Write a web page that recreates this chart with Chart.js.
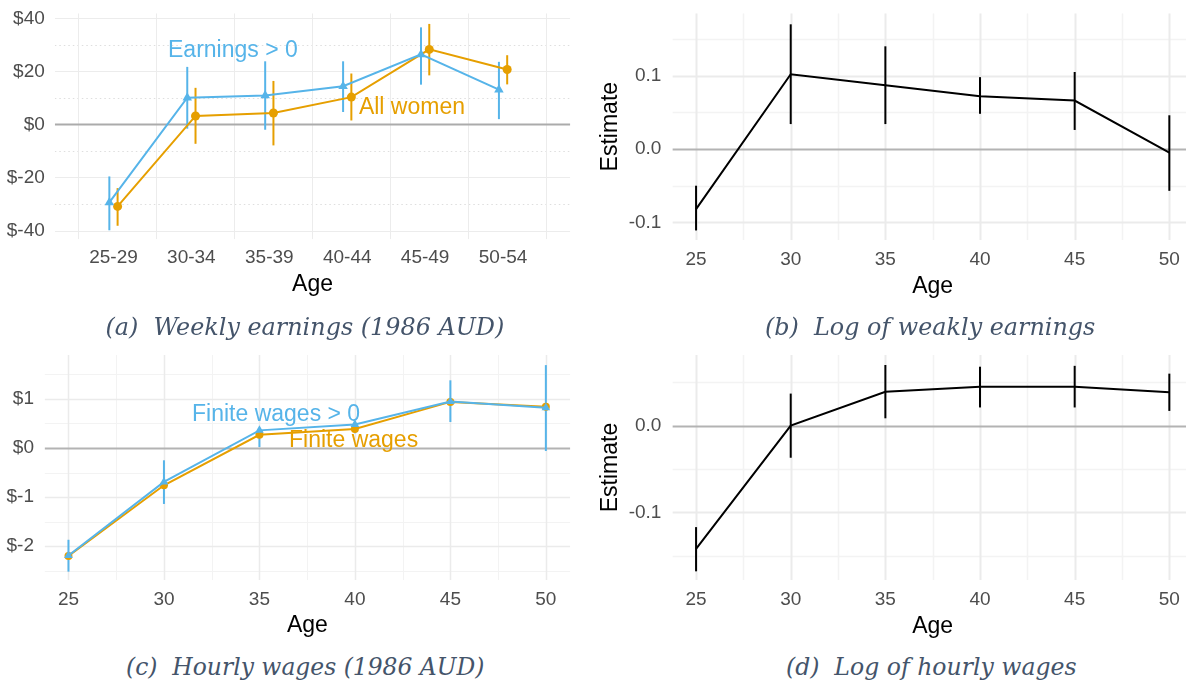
<!DOCTYPE html>
<html>
<head>
<meta charset="utf-8">
<script src="https://cdn.jsdelivr.net/npm/chart.js@4.4.1/dist/chart.umd.min.js"></script>
<style>
  html, body { margin: 0; padding: 0; background: #fff; overflow: hidden; width: 1186px; height: 683px; }
  canvas { position: absolute; }
  .cap { position: absolute; white-space: nowrap; font-family: "DejaVu Serif", serif; font-style: italic;
         font-size: 25px; color: #44546a; transform-origin: 50% 50%; }
</style>
</head>
<body>
<canvas id="chartA" width="593" height="300" style="left:0;top:0"></canvas>
<canvas id="chartB" width="600" height="300" style="left:593px;top:0"></canvas>
<canvas id="chartC" width="593" height="300" style="left:0;top:340px"></canvas>
<canvas id="chartD" width="600" height="300" style="left:593px;top:340px"></canvas>

<div class="cap" data-cx="305" data-cy="326" data-w="399">(a)&nbsp; Weekly earnings (1986 AUD)</div>
<div class="cap" data-cx="930" data-cy="326" data-w="330">(b)&nbsp; Log of weakly earnings</div>
<div class="cap" data-cx="305" data-cy="666" data-w="359">(c)&nbsp; Hourly wages (1986 AUD)</div>
<div class="cap" data-cx="931" data-cy="666" data-w="290">(d)&nbsp; Log of hourly wages</div>

<script>
// ---- data ----
const ageGroups = ['25-29', '30-34', '35-39', '40-44', '45-49', '50-54'];
const ages = [25, 30, 35, 40, 45, 50];

// (a) weekly earnings
const earnPos   = [-29.4, 10.1, 10.9, 14.4, 26.4, 13.1];
const earnPosLo = [-39.9, -1.6, -2.0, 4.7, 15.0, 2.0];
const earnPosHi = [-19.6, 21.7, 23.8, 23.8, 36.6, 23.6];
const earnAll   = [-30.9, 3.2, 4.3, 10.3, 28.3, 20.7];
const earnAllLo = [-38.2, -7.3, -7.9, 1.5, 18.5, 15.1];
const earnAllHi = [-24.0, 13.8, 16.4, 19.2, 37.9, 26.1];
const earnTicks = [-40, -20, 0, 20, 40];

// (b) log weekly earnings
const logEarn   = [-0.082, 0.102, 0.087, 0.072, 0.066, -0.005];
const logEarnLo = [-0.111, 0.034, 0.034, 0.048, 0.026, -0.057];
const logEarnHi = [-0.050, 0.170, 0.140, 0.098, 0.105, 0.046];
const logEarnTicks = [-0.1, 0, 0.1];

// (c) hourly wages
const wagePos    = [-2.19, -0.69, 0.36, 0.48, 0.95, 0.82];
const wagePosLo  = [-2.52, -1.14, 0.02, 0.30, 0.53, -0.06];
const wagePosHi  = [-1.87, -0.25, 0.39, 0.55, 1.38, 1.69];
const wageFinite = [-2.20, -0.76, 0.27, 0.39, 0.94, 0.84];
const wageTicks = [-2, -1, 0, 1];

// (d) log hourly wages
const logWage   = [-0.142, 0.000, 0.039, 0.045, 0.045, 0.0385];
const logWageLo = [-0.168, -0.037, 0.0085, 0.021, 0.021, 0.017];
const logWageHi = [-0.117, 0.037, 0.070, 0.068, 0.069, 0.060];
const logWageTicks = [-0.1, 0];

const BLUE = '#56B4E9';
const ORANGE = '#E69F00';
const FONT = "'Liberation Sans', Arial, sans-serif";

// ggplot-like background grid, zero line and error bars
const gridPlugin = {
  id: 'ggGrid',
  beforeDatasetsDraw(chart, args, o) {
    const { ctx, chartArea: a, scales: { x, y } } = chart;
    ctx.save();
    ctx.beginPath();
    ctx.rect(a.left, a.top, a.right - a.left, a.bottom - a.top);
    ctx.clip();
    const hline = (v, color, w, dash) => {
      const p = Math.round(y.getPixelForValue(v)) + 0.5;
      ctx.strokeStyle = color; ctx.lineWidth = w; ctx.setLineDash(dash || []);
      ctx.beginPath(); ctx.moveTo(a.left, p); ctx.lineTo(a.right, p); ctx.stroke();
    };
    const vline = (v, color, w) => {
      const p = Math.round(x.getPixelForValue(v)) + 0.5;
      ctx.strokeStyle = color; ctx.lineWidth = w; ctx.setLineDash([]);
      ctx.beginPath(); ctx.moveTo(p, a.top); ctx.lineTo(p, a.bottom); ctx.stroke();
    };
    (o.xMinor || []).forEach(v => vline(v, o.minorColor, o.minorWidth));
    (o.yMinor || []).forEach(v => hline(v, o.minorColor, o.minorWidth, o.minorDash));
    (o.xMajor || []).forEach(v => vline(v, o.majorColor, o.majorWidth));
    (o.yMajor || []).forEach(v => { if (v !== 0) hline(v, o.majorColor, o.majorWidth); });
    hline(0, o.zeroColor, 2);
    ctx.restore();

    ctx.save();
    chart.data.datasets.forEach(ds => {
      if (!ds.errLo) return;
      ctx.strokeStyle = ds.errColor || ds.borderColor;
      ctx.lineWidth = ds.errWidth || 2;
      ds.data.forEach((pt, j) => {
        const px = x.getPixelForValue(pt.x);
        ctx.beginPath();
        ctx.moveTo(px, y.getPixelForValue(ds.errLo[j]));
        ctx.lineTo(px, y.getPixelForValue(ds.errHi[j]));
        ctx.stroke();
      });
    });
    ctx.restore();
  }
};

// direct labels
const textPlugin = {
  id: 'ggText',
  afterDatasetsDraw(chart, args, o) {
    const { ctx, scales: { x, y } } = chart;
    ctx.save();
    ctx.font = '23px ' + FONT;
    ctx.textAlign = 'left';
    ctx.textBaseline = 'middle';
    (o.items || []).forEach(t => {
      ctx.fillStyle = t.color;
      ctx.fillText(t.text, x.getPixelForValue(t.x), y.getPixelForValue(t.y));
    });
    ctx.restore();
  }
};

function makeChart(id, o) {
  return new Chart(document.getElementById(id), {
    type: 'line',
    data: { datasets: o.datasets },
    options: {
      responsive: false,
      animation: false,
      layout: { padding: { top: o.top, right: o.right, bottom: 0, left: 0 } },
      plugins: {
        legend: { display: false },
        tooltip: { enabled: false },
        ggGrid: o.grid,
        ggText: { items: o.texts || [] }
      },
      scales: {
        x: {
          type: 'linear', min: o.xMin, max: o.xMax,
          grid: { display: false, drawTicks: false }, border: { display: false },
          afterBuildTicks: s => { s.ticks = o.xTicks.map(v => ({ value: v })); },
          afterFit: s => { s.height = o.xHeight; s.paddingLeft = 0; s.paddingRight = 0; },
          ticks: { padding: o.xPad, color: '#4d4d4d', font: { family: FONT, size: 19 },
                   maxRotation: 0, autoSkip: false, callback: o.xLabel },
          title: { display: true, text: 'Age', color: '#000', font: { family: FONT, size: 23 },
                   padding: { top: 0, bottom: o.titlePad } }
        },
        y: {
          type: 'linear', min: o.yMin, max: o.yMax,
          grid: { display: false, drawTicks: false }, border: { display: false },
          afterBuildTicks: s => { s.ticks = o.yTicks.map(v => ({ value: v })); },
          afterFit: s => { s.width = o.yWidth; s.paddingTop = 0; s.paddingBottom = 0; },
          ticks: { padding: o.yPad, color: '#4d4d4d', font: { family: FONT, size: 19 }, callback: o.yLabel },
          title: o.yTitle
            ? { display: true, text: o.yTitle, color: '#000', font: { family: FONT, size: 23 }, padding: { top: 4, bottom: 0 } }
            : { display: false }
        }
      }
    },
    plugins: [gridPlugin, textPlugin]
  });
}

const dodge = 0.053;
const dollar = v => '$' + v;
const oneDec = v => v.toFixed(1);
const ageLabel = v => String(v);

const gridA = {
  xMajor: [-0.45, 0.55, 1.55, 2.55, 3.55, 4.55, 5.55],
  yMajor: earnTicks, yMinor: [-30, -10, 10, 30],
  majorColor: '#ececec', majorWidth: 1, minorColor: '#dedede', minorWidth: 1, minorDash: [1.5, 3],
  zeroColor: '#ababab'
};
const gridAge = (yMajor, yMinor) => ({
  xMajor: ages, xMinor: [27.5, 32.5, 37.5, 42.5, 47.5],
  yMajor: yMajor, yMinor: yMinor,
  majorColor: '#ebebeb', majorWidth: 2, minorColor: '#f3f3f3', minorWidth: 1.5,
  zeroColor: '#b3b3b3'
});

// (a)
makeChart('chartA', {
  top: 13.3, right: 22.7, yWidth: 54.8, xHeight: 60.7, xPad: 7, yPad: 10, titlePad: 2,
  xMin: -0.753, xMax: 5.863, xTicks: ageGroups.map((g, i) => i), xLabel: v => ageGroups[v],
  yMin: -43.3, yMax: 41.9, yTicks: earnTicks, yLabel: dollar,
  grid: gridA,
  texts: [
    { text: 'Earnings > 0', x: 0.70, y: 27.7, color: BLUE },
    { text: 'All women', x: 3.15, y: 6.5, color: ORANGE }
  ],
  datasets: [
    { data: earnPos.map((v, i) => ({ x: i - dodge, y: v })), errLo: earnPosLo, errHi: earnPosHi,
      borderColor: BLUE, backgroundColor: BLUE, borderWidth: 2, pointStyle: 'triangle', pointRadius: 5.5, pointBorderWidth: 0 },
    { data: earnAll.map((v, i) => ({ x: i + dodge, y: v })), errLo: earnAllLo, errHi: earnAllHi,
      borderColor: ORANGE, backgroundColor: ORANGE, borderWidth: 2, pointStyle: 'circle', pointRadius: 4.5, pointBorderWidth: 0 }
  ]
});

// (b)
makeChart('chartB', {
  top: 13.3, right: 0, yWidth: 79.4, xHeight: 60, xPad: 8.6, yPad: 11, titlePad: 0, yTitle: 'Estimate',
  xMin: 23.75, xMax: 51.25, xTicks: ages, xLabel: ageLabel,
  yMin: -0.124, yMax: 0.185, yTicks: logEarnTicks, yLabel: oneDec,
  grid: gridAge(logEarnTicks, [-0.05, 0.05, 0.15]),
  datasets: [
    { data: logEarn.map((v, i) => ({ x: ages[i], y: v })), errLo: logEarnLo, errHi: logEarnHi,
      borderColor: '#000', borderWidth: 2, pointRadius: 0 }
  ]
});

// (c)
makeChart('chartC', {
  top: 15, right: 22.7, yWidth: 44.6, xHeight: 60, xPad: 8.6, yPad: 10.6, titlePad: 1,
  xMin: 23.75, xMax: 51.28, xTicks: ages, xLabel: ageLabel,
  yMin: -2.69, yMax: 1.896, yTicks: wageTicks, yLabel: dollar,
  grid: Object.assign(gridAge(wageTicks, [-2.5, -1.5, -0.5, 0.5, 1.5]), { majorWidth: 1.5, minorWidth: 1 }),
  texts: [
    { text: 'Finite wages > 0', x: 31.47, y: 0.67, color: BLUE },
    { text: 'Finite wages', x: 36.55, y: 0.14, color: ORANGE }
  ],
  datasets: [
    { data: wagePos.map((v, i) => ({ x: ages[i], y: v })), errLo: wagePosLo, errHi: wagePosHi,
      borderColor: BLUE, backgroundColor: BLUE, borderWidth: 2, pointStyle: 'triangle', pointRadius: 5, pointBorderWidth: 0 },
    { data: wageFinite.map((v, i) => ({ x: ages[i], y: v })),
      borderColor: ORANGE, backgroundColor: ORANGE, borderWidth: 2, pointStyle: 'circle', pointRadius: 4, pointBorderWidth: 0 }
  ]
});

// (d)
makeChart('chartD', {
  top: 15, right: 0, yWidth: 79.4, xHeight: 60, xPad: 8.6, yPad: 11, titlePad: 0, yTitle: 'Estimate',
  xMin: 23.75, xMax: 51.25, xTicks: ages, xLabel: ageLabel,
  yMin: -0.178, yMax: 0.0815, yTicks: logWageTicks, yLabel: oneDec,
  grid: gridAge(logWageTicks, [-0.15, -0.05, 0.05]),
  datasets: [
    { data: logWage.map((v, i) => ({ x: ages[i], y: v })), errLo: logWageLo, errHi: logWageHi,
      borderColor: '#000', borderWidth: 2, pointRadius: 0 }
  ]
});

// captions: centre and fit to the reference width
document.querySelectorAll('.cap').forEach(el => {
  const w = el.offsetWidth, h = el.offsetHeight;
  const k = Number(el.dataset.w) / w;
  el.style.left = (Number(el.dataset.cx) - w / 2) + 'px';
  el.style.top = (Number(el.dataset.cy) - h / 2) + 'px';
  el.style.transform = 'scaleX(' + k.toFixed(3) + ')';
});
</script>
</body>
</html>
